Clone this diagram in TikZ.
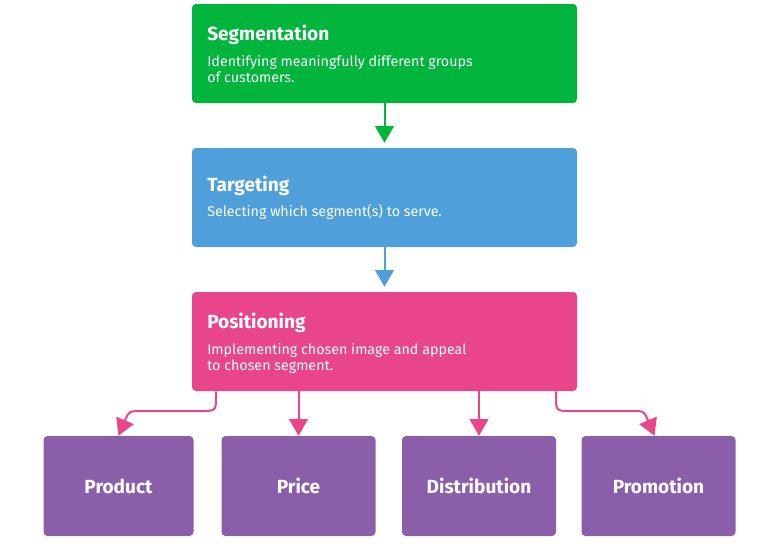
\documentclass[tikz,border=0pt]{standalone}
\usepackage{fontspec}
\setmainfont{Fira Sans}
\usepackage{tikz}
\usetikzlibrary{arrows.meta}
\usetikzlibrary{positioning}

\definecolor{segcol}{RGB}{0,181,60}
\definecolor{tgtcol}{RGB}{79,160,218}
\definecolor{poscol}{RGB}{232,69,138}
\definecolor{mixcol}{RGB}{139,94,170}

\begin{document}
\begin{tikzpicture}[x=0.75pt,y=-0.75pt,
  stage/.style={rounded corners=3pt,minimum width=385*0.75pt,minimum height=99*0.75pt,inner sep=0},
  mix/.style={rounded corners=3pt,fill=mixcol,text=white,minimum width=154*0.75pt,
    minimum height=100*0.75pt,inner sep=0,font=\fontsize{14.3}{17}\selectfont\bfseries},
  title/.style={anchor=base west,inner sep=0,text=white,font=\fontsize{14.3}{17}\selectfont\bfseries},
  desc/.style={anchor=north west,inner sep=0,text=white,align=left,font=\fontsize{10.7}{12}\selectfont},
  flow/.style={line width=1.5pt,-{Triangle[width=14pt,length=12.5pt]}}]

  \useasboundingbox (0,0) rectangle (777,544);

  % segmentation
  \node[stage,fill=segcol] (seg) at (384.5,53.5) {};
  \node[title] (segtitle) at (207,40) {Segmentation};
  \node[desc] (segdesc) at (207,55) {Identifying meaningfully different groups\\of customers.};

  % targeting
  \node[stage,fill=tgtcol] (tgt) at (384.5,197.5) {};
  \node[title] (tgttitle) at (207,191) {Targeting};
  \node[desc] (tgtdesc) at (207,204) {Selecting which segment(s) to serve.};

  % positioning
  \node[stage,fill=poscol] (pos) at (384.5,341.5) {};
  \node[title] (postitle) at (207,328) {Positioning};
  \node[desc] (posdesc) at (207,343) {Implementing chosen image and appeal\\to chosen segment.};

  % marketing mix
  \node[mix,minimum width=150*0.75pt] (product) at (118.5,486) {Product};
  \node[mix] (price) at (298.5,486) {Price};
  \node[mix] (distribution) at (479,486) {Distribution};
  \node[mix] (promotion) at (658.5,486) {Promotion};

  % arrows
  \draw[flow,segcol,shorten >=5*0.75pt] (seg) -- (tgt);
  \draw[flow,tgtcol,shorten >=5*0.75pt] (tgt) -- (pos);
  \draw[flow,poscol] (pos.south -| 216,0) -- (216,396) .. controls (216,411) .. (200,411)
    -- (142,411) .. controls (129,411) .. (product.north);
  \draw[flow,poscol] (pos.south -| price) -- (price.north);
  \draw[flow,poscol] (pos.south -| distribution) -- (distribution.north);
  \draw[flow,poscol] (pos.south -| 556,0) -- (556,396) .. controls (556,411) .. (572,411)
    -- (632,411) .. controls (644,411) .. ([xshift=-4*0.75pt]promotion.north);
\end{tikzpicture}
\end{document}
